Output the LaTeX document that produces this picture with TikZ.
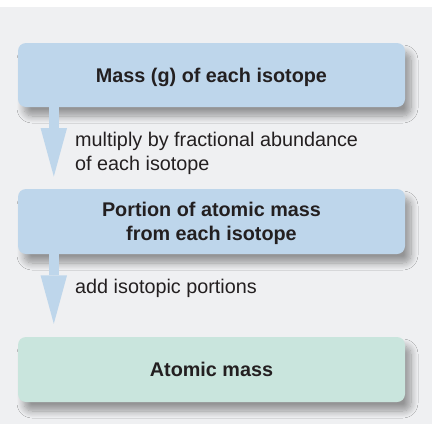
\documentclass[tikz,border=0pt]{standalone}
\usepackage{fontspec}
\setmainfont{Liberation Sans}
\usetikzlibrary{shadows.blur,arrows.meta}
\definecolor{bg}{HTML}{EFF0F2}
\definecolor{boxblue}{HTML}{BED6EB}
\definecolor{boxgreen}{HTML}{C9E5DD}
\definecolor{ink}{HTML}{231F20}
\begin{document}
\begin{tikzpicture}[x=1pt,y=1pt,
  stepbox/.style={rounded corners=8pt, minimum width=387pt, minimum height=65pt,
    inner sep=0pt, text=ink, font=\fontsize{19.8}{23.3}\selectfont\bfseries, align=center,
    blur shadow={shadow xshift=6pt, shadow yshift=-9pt, shadow blur radius=7pt,
      shadow blur steps=12, shadow opacity=38}},
  flow/.style={draw=boxblue, fill=boxblue, line width=10pt,
    -{Triangle[width=26.5pt,length=48.5pt,line width=0pt]}},
  note/.style={anchor=base west, inner sep=0pt, text=ink,
    font=\fontsize{19.8}{23.3}\selectfont, align=left}]
\useasboundingbox (0,0) rectangle (432,-424);
\fill[bg] (0,-7) rectangle (432,-424);
\node[stepbox, fill=boxblue, minimum height=64pt, text height=14.6pt, text depth=0pt] (mass) at (211.5,-75) {Mass (g) of each isotope};
\node[stepbox, fill=boxblue, text height=37pt, text depth=0pt] (portion) at (211.5,-221.5) {Portion of atomic mass\\from each isotope};
\node[stepbox, fill=boxgreen, text height=14.4pt, text depth=0pt] (atomic) at (211.5,-369.5) {Atomic mass};
\draw[flow] ([xshift=36pt]mass.south west) -- ([xshift=36pt,yshift=12.3pt]portion.north west);
\draw[flow] ([xshift=36pt]portion.south west) -- ([xshift=36pt,yshift=13pt]atomic.north west);
\node[note] (n1) at (75,-170) {multiply by fractional abundance\\of each isotope};
\node[note] (n2) at (75,-293.3) {add isotopic portions};
\end{tikzpicture}
\end{document}
